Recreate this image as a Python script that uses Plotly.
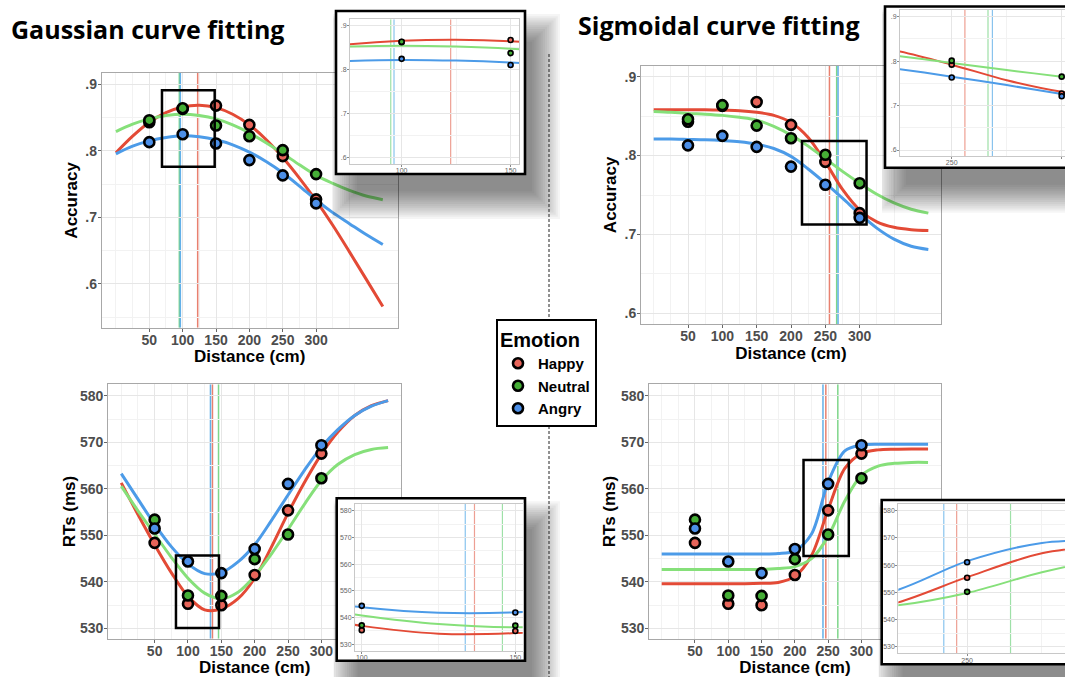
import plotly.graph_objects as go

W, H = 1065, 677

# ---------------- data ----------------
emotions = ["Happy", "Neutral", "Angry"]
distance = [50, 100, 150, 200, 250, 300]

acc_happy = [0.843, 0.863, 0.868, 0.839, 0.792, 0.727]
acc_neutral = [0.846, 0.864, 0.838, 0.822, 0.801, 0.765]
acc_angry = [0.813, 0.825, 0.811, 0.786, 0.763, 0.721]

rt_happy = [548.4, 535.3, 535.0, 541.5, 555.4, 567.6]
rt_neutral = [553.4, 537.1, 537.0, 544.9, 550.2, 562.3]
rt_angry = [551.5, 544.4, 541.9, 547.1, 561.1, 569.4]

curve_x = [0, 25, 50, 75, 100, 125, 150, 175, 200, 225, 250, 275, 300, 325, 350, 375, 400]

gauss_acc_happy = [0.797, 0.822, 0.843, 0.8575, 0.866, 0.8685, 0.865, 0.855, 0.839, 0.817, 0.790, 0.759, 0.725, 0.688, 0.648, 0.607, 0.566]
gauss_acc_neutral = [0.829, 0.840, 0.848, 0.853, 0.855, 0.853, 0.848, 0.839, 0.827, 0.812, 0.796, 0.779, 0.763, 0.751, 0.7405, 0.732, 0.7265]
gauss_acc_angry = [0.7955, 0.807, 0.815, 0.820, 0.8225, 0.821, 0.8165, 0.809, 0.798, 0.784, 0.767, 0.747, 0.726, 0.707, 0.6905, 0.674, 0.659]

sig_acc_happy = [0.858, 0.858, 0.858, 0.858, 0.8575, 0.857, 0.855, 0.851, 0.842, 0.823, 0.792, 0.757, 0.731, 0.716, 0.709, 0.706, 0.705]
sig_acc_neutral = [0.856, 0.855, 0.8535, 0.8525, 0.851, 0.8485, 0.845, 0.837, 0.826, 0.812, 0.796, 0.780, 0.765, 0.751, 0.740, 0.732, 0.727]
sig_acc_angry = [0.821, 0.821, 0.8205, 0.820, 0.819, 0.8175, 0.8145, 0.809, 0.799, 0.783, 0.765, 0.746, 0.726, 0.708, 0.694, 0.685, 0.681]

gauss_rt_happy = [561.3, 554.5, 548.0, 542.0, 536.9, 534.0, 534.2, 536.4, 540.8, 547.5, 554.8, 561.5, 567.5, 572.3, 575.8, 577.9, 579.0]
gauss_rt_neutral = [560.6, 555.3, 550.3, 545.3, 540.8, 537.6, 536.4, 537.8, 541.3, 546.0, 551.3, 556.8, 561.8, 565.3, 567.4, 568.5, 568.9]
gauss_rt_angry = [563.3, 557.8, 552.4, 547.6, 543.9, 541.8, 542.0, 544.3, 548.0, 553.2, 558.7, 564.1, 569.0, 572.8, 575.8, 577.8, 579.0]

sig_rt_happy = [539.6, 539.6, 539.6, 539.6, 539.6, 539.6, 539.7, 539.9, 541.2, 545.7, 555.6, 564.4, 567.6, 568.4, 568.55, 568.6, 568.6]
sig_rt_neutral = [542.7, 542.7, 542.7, 542.7, 542.7, 542.7, 542.7, 542.9, 543.3, 545.0, 549.8, 557.4, 562.9, 564.9, 565.5, 565.7, 565.7]
sig_rt_angry = [546.0, 546.0, 546.0, 546.0, 546.0, 546.0, 546.0, 546.1, 546.7, 550.3, 561.5, 568.2, 569.4, 569.6, 569.6, 569.6, 569.6]

# fitted peak / inflection distances (Happy, Neutral, Angry)
vl_gauss_acc = [122.5, 95.0, 96.5]
vl_sig_acc = [256.0, 266.5, 268.5]
vl_gauss_rt = [136.7, 145.8, 133.7]
vl_sig_rt = [246.5, 264.5, 242.2]

# zoom windows [x0, x1, y0, y1]
box_gauss_acc = [69, 148, 0.776, 0.891]
box_sig_acc = [216, 310, 0.7127, 0.8186]
box_gauss_rt = [82, 146.5, 530.1, 545.7]
box_sig_rt = [213, 281, 545.6, 566.2]

x_ticks = [50, 100, 150, 200, 250, 300]
x_minor = [0, 25, 75, 125, 175, 225, 275, 325, 350]
acc_ticks = [0.6, 0.7, 0.8, 0.9]
acc_labels = [".6", ".7", ".8", ".9"]
acc_minor = [0.55, 0.65, 0.75, 0.85]
rt_ticks = [530, 540, 550, 560, 570, 580]
rt_minor = [535, 545, 555, 565, 575]

# ---------------- styles ----------------
curve_col = {"Happy": "#E34A36", "Neutral": "#86E07A", "Angry": "#4C9BE8"}
point_col = {"Happy": "#E8655A", "Neutral": "#45AE36", "Angry": "#4C8FE8"}
vline_col = {"Happy": "#E8806F", "Neutral": "#7ED68A", "Angry": "#62B0E8"}
FONT = "Liberation Sans, Arial, sans-serif"


def dom_x(a, b):
    return [max(0, a / W), min(1, b / W)]


def dom_y(top, bottom):
    return [max(0, 1 - bottom / H), min(1, 1 - top / H)]


def ax_names(n):
    return ("x" if n == 1 else f"x{n}", "y" if n == 1 else f"y{n}",
            "xaxis" if n == 1 else f"xaxis{n}", "yaxis" if n == 1 else f"yaxis{n}")


panels = [
    dict(pts=[acc_happy, acc_neutral, acc_angry],
         crv=[gauss_acc_happy, gauss_acc_neutral, gauss_acc_angry],
         vl=vl_gauss_acc, box=box_gauss_acc,
         px=(101.8, 397.5), py=(73, 327.7), xr=[-21.2, 422], yr=[0.534, 0.917],
         yt=acc_ticks, yl=acc_labels, ym=acc_minor, ytitle="Accuracy", ystand=3,
         inset=dict(px=(350, 519.3), py=(19.3, 164), xr=[76.3, 154], yr=[0.5856, 0.915],
                    xt=[100, 150], xm=[75, 125], box=(336, 525, 11, 174))),
    dict(pts=[acc_happy, acc_neutral, acc_angry],
         crv=[sig_acc_happy, sig_acc_neutral, sig_acc_angry],
         vl=vl_sig_acc, box=box_sig_acc,
         px=(641.1, 940.7), py=(65.7, 324), xr=[-18.3, 418], yr=[0.5864, 0.914],
         yt=acc_ticks, yl=acc_labels, ym=acc_minor, ytitle="Accuracy", ystand=3,
         inset=dict(px=(900, 1065), py=(10, 156), xr=[226.5, 301.5], yr=[0.5865, 0.915],
                    xt=[250, 300], xm=[225, 275], box=(885, 1080, 6.5, 167.7))),
    dict(pts=[rt_happy, rt_neutral, rt_angry],
         crv=[gauss_rt_happy, gauss_rt_neutral, gauss_rt_angry],
         vl=vl_gauss_rt, box=box_gauss_rt,
         px=(108.2, 401.1), py=(384.3, 638.7), xr=[-19.6, 419.5], yr=[527.8, 582.5],
         yt=rt_ticks, yl=[str(v) for v in rt_ticks], ym=rt_minor, ytitle="RTs (ms)", ystand=0,
         inset=dict(px=(355, 522.7), py=(504, 651), xr=[97.8, 152.4], yr=[527.5, 582.5],
                    xt=[100, 150], xm=[125], box=(336.7, 525, 498.3, 660.7))),
    dict(pts=[rt_happy, rt_neutral, rt_angry],
         crv=[sig_rt_happy, sig_rt_neutral, sig_rt_angry],
         vl=vl_sig_rt, box=box_sig_rt,
         px=(649.1, 940.7), py=(384.3, 638.7), xr=[-18.9, 419], yr=[527.8, 582.5],
         yt=rt_ticks, yl=[str(v) for v in rt_ticks], ym=rt_minor, ytitle="RTs (ms)", ystand=0,
         inset=dict(px=(898.3, 1065), py=(504, 653.3), xr=[227, 282.7], yr=[527.6, 582.5],
                    xt=[250], xm=[275], box=(881.7, 1080, 500, 664.3))),
]

fig = go.Figure()
layout = {}
shapes = []

# ---------- main panels (axes 1..4) ----------
for i, p in enumerate(panels):
    n = i + 1
    xn, yn, xk, yk = ax_names(n)
    layout[xk] = dict(
        domain=dom_x(*p["px"]), range=p["xr"], anchor=yn,
        tickmode="array", tickvals=x_ticks, ticktext=[str(v) for v in x_ticks],
        showgrid=True, gridcolor="#e6e6e6", gridwidth=1,
        minor=dict(tickmode="array", tickvals=x_minor, showgrid=True,
                   gridcolor="#f2f2f2", gridwidth=1, ticks=""),
        showline=True, mirror=True, linecolor="#a8a8a8", linewidth=1,
        ticks="outside", ticklen=3, tickcolor="#666", ticklabelstandoff=-4,
        tickfont=dict(family=FONT, size=14, color="#4d4d4d", weight="bold"),
        title=dict(text="Distance (cm)", standoff=0,
                   font=dict(family=FONT, size=17, color="black", weight="bold")),
        zeroline=False, fixedrange=True)
    layout[yk] = dict(
        domain=dom_y(*p["py"]), range=p["yr"], anchor=xn,
        tickmode="array", tickvals=p["yt"], ticktext=p["yl"],
        showgrid=True, gridcolor="#e6e6e6", gridwidth=1,
        minor=dict(tickmode="array", tickvals=p["ym"], showgrid=True,
                   gridcolor="#f2f2f2", gridwidth=1, ticks=""),
        showline=True, mirror=True, linecolor="#a8a8a8", linewidth=1,
        ticks="outside", ticklen=3, tickcolor="#666", ticklabelstandoff=-2,
        tickfont=dict(family=FONT, size=14, color="#4d4d4d", weight="bold"),
        title=dict(text=p["ytitle"], standoff=p["ystand"],
                   font=dict(family=FONT, size=17, color="black", weight="bold")),
        zeroline=False, fixedrange=True)
    for e, emo in enumerate(emotions):
        fig.add_trace(go.Scatter(
            x=curve_x, y=p["crv"][e], mode="lines", xaxis=xn, yaxis=yn,
            line=dict(color=curve_col[emo], width=3, shape="spline", smoothing=0.9),
            showlegend=False, hoverinfo="skip"))
    for e, emo in enumerate(emotions):
        fig.add_trace(go.Scatter(
            x=distance, y=p["pts"][e], mode="markers", xaxis=xn, yaxis=yn,
            name=emo, legendgroup=emo, showlegend=(n == 1),
            marker=dict(size=10, color=point_col[emo], line=dict(color="black", width=2.6))))
    for e, emo in enumerate(emotions):
        shapes.append(dict(type="line", xref=xn, yref=yn, layer="below",
                           x0=p["vl"][e], x1=p["vl"][e], y0=p["yr"][0], y1=p["yr"][1],
                           line=dict(color=vline_col[emo], width=1.5)))
    b = p["box"]
    shapes.append(dict(type="rect", xref=xn, yref=yn, layer="above",
                       x0=b[0], x1=b[1], y0=b[2], y1=b[3],
                       line=dict(color="black", width=2.5)))

# ---------- helper layers: drop shadow + white box (axes 5..8) ----------
SH_DX, SH_DY, SH_BLUR, SH_N, SH_ALPHA = 14, 24, 30, 14, 0.55
for i, p in enumerate(panels):
    n = 5 + i
    xn, yn, xk, yk = ax_names(n)
    bx0, bx1, by0, by1 = p["inset"]["box"]
    L = bx0 - 3
    R = min(W, bx1 + SH_DX + 0.7 * SH_BLUR + 3)
    T = by0 - 3
    B = min(H, by1 + SH_DY + 0.7 * SH_BLUR + 3)
    layout[xk] = dict(domain=dom_x(L, R), range=[L, R], anchor=yn, visible=False, fixedrange=True)
    layout[yk] = dict(domain=dom_y(T, B), range=[B, T], anchor=xn, visible=False, fixedrange=True)
    fig.add_trace(go.Scatter(x=[], y=[], xaxis=xn, yaxis=yn, showlegend=False, hoverinfo="skip"))
    for k in range(SH_N):
        g = SH_BLUR * 0.7 - SH_BLUR * k / SH_N
        shapes.append(dict(type="rect", xref=xn, yref=yn, layer="below",
                           x0=bx0 + SH_DX - g, x1=bx1 + SH_DX + g,
                           y0=by0 + SH_DY - g, y1=by1 + SH_DY + g,
                           fillcolor=f"rgba(0,0,0,{SH_ALPHA / SH_N:.4f})", line=dict(width=0)))
    shapes.append(dict(type="rect", xref=xn, yref=yn, layer="below",
                       x0=bx0, x1=bx1, y0=by0, y1=by1,
                       fillcolor="white", line=dict(color="black", width=2.6)))

# ---------- insets (axes 9..12) ----------
for i, p in enumerate(panels):
    n = 9 + i
    xn, yn, xk, yk = ax_names(n)
    ins = p["inset"]
    layout[xk] = dict(
        domain=dom_x(*ins["px"]), range=ins["xr"], anchor=yn,
        tickmode="array", tickvals=ins["xt"], ticktext=[str(v) for v in ins["xt"]],
        showgrid=True, gridcolor="#e6e6e6",
        minor=dict(tickmode="array", tickvals=ins["xm"], showgrid=True, gridcolor="#f2f2f2", ticks=""),
        showline=True, mirror=True, linecolor="#c8c8c8", linewidth=1,
        ticks="outside", ticklen=2, tickcolor="#888", ticklabelstandoff=-2,
        tickfont=dict(family=FONT, size=7, color="#666"), zeroline=False, fixedrange=True)
    layout[yk] = dict(
        domain=dom_y(*ins["py"]), range=ins["yr"], anchor=xn,
        tickmode="array", tickvals=p["yt"], ticktext=p["yl"],
        showgrid=True, gridcolor="#e6e6e6",
        minor=dict(tickmode="array", tickvals=p["ym"], showgrid=True, gridcolor="#f2f2f2", ticks=""),
        showline=True, mirror=True, linecolor="#c8c8c8", linewidth=1,
        ticks="outside", ticklen=2, tickcolor="#888", ticklabelstandoff=-1,
        tickfont=dict(family=FONT, size=7, color="#666"), zeroline=False, fixedrange=True)
    for e, emo in enumerate(emotions):
        fig.add_trace(go.Scatter(
            x=curve_x, y=p["crv"][e], mode="lines", xaxis=xn, yaxis=yn,
            line=dict(color=curve_col[emo], width=2, shape="spline", smoothing=0.9),
            showlegend=False, hoverinfo="skip"))
    for e, emo in enumerate(emotions):
        fig.add_trace(go.Scatter(
            x=distance, y=p["pts"][e], mode="markers", xaxis=xn, yaxis=yn,
            showlegend=False,
            marker=dict(size=5, color=point_col[emo], line=dict(color="black", width=1.6))))
    for e, emo in enumerate(emotions):
        shapes.append(dict(type="line", xref=xn, yref=yn, layer="below",
                           x0=p["vl"][e], x1=p["vl"][e], y0=ins["yr"][0], y1=ins["yr"][1],
                           line=dict(color=vline_col[emo], width=1.2), opacity=0.75))

# ---------- divider ----------
for (t, b) in [(54, 319), (421, 677)]:
    shapes.append(dict(type="line", xref="paper", yref="paper", layer="above",
                       x0=549 / W, x1=549 / W, y0=1 - t / H, y1=1 - b / H,
                       line=dict(color="#222", width=1, dash="3px,2px")))

annotations = [
    dict(text="<b>Gaussian curve fitting</b>", xref="paper", yref="paper",
         x=9 / W, y=1 - 29 / H, xanchor="left", yanchor="middle", showarrow=False,
         font=dict(family="Open Sans, sans-serif", size=25, color="black")),
    dict(text="<b>Sigmoidal curve fitting</b>", xref="paper", yref="paper",
         x=576 / W, y=1 - 25 / H, xanchor="left", yanchor="middle", showarrow=False,
         font=dict(family="Open Sans, sans-serif", size=25, color="black")),
]

fig.update_layout(
    width=W, height=H, margin=dict(l=0, r=0, t=0, b=0),
    paper_bgcolor="white", plot_bgcolor="rgba(0,0,0,0)",
    font=dict(family=FONT),
    shapes=shapes, annotations=annotations,
    legend=dict(x=496 / W, y=1 - 319 / H, xanchor="left", yanchor="top",
                bgcolor="white", bordercolor="black", borderwidth=2,
                title=dict(text="Emotion", font=dict(family=FONT, size=20, color="black", weight="bold")),
                font=dict(family=FONT, size=15, color="black", weight="bold"),
                tracegroupgap=0, itemwidth=30),
    **layout)

fig.write_html("out.html", config={"displayModeBar": False},
               post_script="document.body.style.margin='0';document.body.style.overflow='hidden';")
